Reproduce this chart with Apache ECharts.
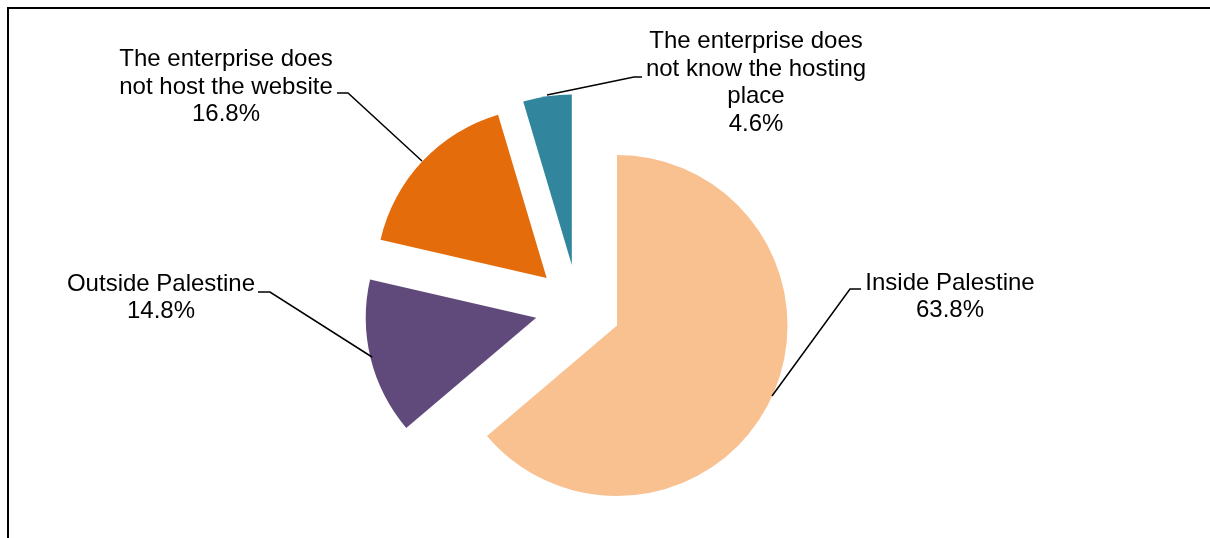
<!DOCTYPE html>
<html>
<head>
<meta charset="utf-8">
<script src="https://cdn.jsdelivr.net/npm/echarts@6/dist/echarts.min.js"></script>
<style>
html,body{margin:0;padding:0;background:#fff;}
#chart{width:1210px;height:538px;}
</style>
</head>
<body>
<div id="chart"></div>
<script>
// Data
var categories = [
  'Inside Palestine',
  'Outside Palestine',
  'The enterprise does\nnot host the website',
  'The enterprise does\nnot know the hosting\nplace'
];
var shares = [63.8, 14.8, 16.8, 4.6];
var colors = ['#F9C090', '#604A7B', '#E46C0A', '#31859C'];

// Label placement (text block centers) and leader lines, per slice
var labelCenters = [[950, 297], [161, 298], [226, 87], [756, 83]];
var leaderLines = [
  [[772, 396], [850, 289], [861, 289]],
  [[372, 357], [270, 292], [258, 292]],
  [[422, 161], [348, 93], [337, 93]],
  [[547, 95], [634, 77], [642, 77]]
];

var graphics = [{
  type: 'polyline',
  shape: {points: [[8, 540], [8, 8], [1212, 8]]},
  style: {stroke: '#000', lineWidth: 2, fill: null},
  silent: true,
  z: 10
}];
categories.forEach(function (c, i) {
  graphics.push({
    type: 'polyline',
    shape: {points: leaderLines[i]},
    style: {stroke: '#000', lineWidth: 1.5, fill: null},
    silent: true,
    z: 10
  });
  graphics.push({
    type: 'text',
    x: labelCenters[i][0],
    y: labelCenters[i][1],
    silent: true,
    z: 10,
    style: {
      text: c + '\n' + shares[i].toFixed(1) + '%',
      fontFamily: '"Liberation Sans", Arial, sans-serif',
      fontSize: 24,
      lineHeight: 27.5,
      fill: '#000',
      align: 'center',
      verticalAlign: 'middle'
    }
  });
});

var chart = echarts.init(document.getElementById('chart'), null, {renderer: 'canvas'});
var option = {
  animation: false,
  backgroundColor: '#ffffff',
  graphic: graphics,
  series: [{
    type: 'pie',
    center: [578, 307.5],
    radius: [0, 170.5],
    startAngle: 90,
    clockwise: true,
    avoidLabelOverlap: false,
    selectedMode: 'multiple',
    selectedOffset: 43,
    emphasis: {disabled: true},
    itemStyle: {borderWidth: 0},
    label: {show: false},
    labelLine: {show: false},
    data: categories.map(function (c, i) {
      return {name: c, value: shares[i], selected: true, itemStyle: {color: colors[i]}};
    })
  }]
};
chart.setOption(option);
</script>
</body>
</html>
